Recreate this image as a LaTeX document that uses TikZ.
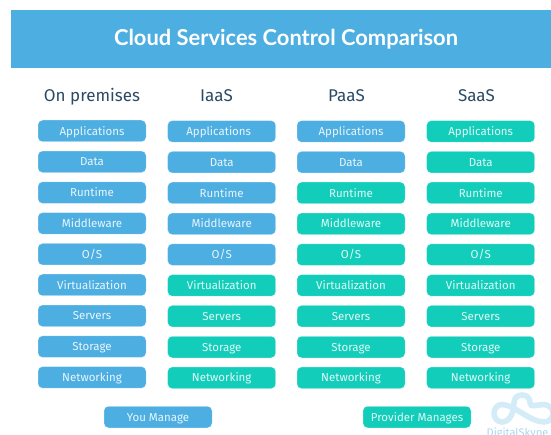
\documentclass[tikz,border=0pt]{standalone}
\usepackage{fontspec}
\setmainfont{Fira Sans}
\newfontfamily\titlefont{Lato}[BoldFont={Lato Bold}]
\definecolor{mgblue}{HTML}{4DAEE2}
\definecolor{provteal}{HTML}{13CDBB}
\definecolor{headtext}{HTML}{2B4A63}
\definecolor{logoblue}{HTML}{D4ECF7}
\definecolor{logotext}{HTML}{A9D6EE}
\tikzset{
  cellbox/.style={rounded corners=4.5pt,minimum width=108pt,minimum height=21.5pt,inner sep=0pt,text=white,font=\fontsize{11.5}{12}\selectfont,text opacity=.88,draw=white,draw opacity=.35,line width=.5pt,text height=10.6pt,text depth=2.4pt},
  you/.style={cellbox,fill=mgblue},
  prov/.style={cellbox,fill=provteal},
  colhead/.style={text=headtext,font=\fontsize{17}{18}\selectfont,inner sep=0pt,text height=12pt,text depth=3.5pt},
  logoline/.style={draw=logoblue,line width=5.6pt}
}
\begin{document}
\begin{tikzpicture}[x=1pt,y=-1pt]
\useasboundingbox (0,0) rectangle (551,435);
\clip (0,0) rectangle (551,435);
\fill[mgblue] (11,10) rectangle (551,68);
\node[text=white,inner sep=0pt,font=\titlefont\bfseries\fontsize{21.9}{24}\selectfont] (title) at (286,39.5) {Cloud Services Control Comparison};
\node[colhead] (hA) at (92,97.5) {On premises};
\node[colhead] (hB) at (216.5,97.5) {IaaS};
\node[colhead] (hC) at (346.5,97.5) {PaaS};
\node[colhead] (hD) at (476.5,97.5) {SaaS};
% rows: name / label / centre y / kern of the IaaS label / four fills
\foreach \n/\lab/\y/\k/\a/\b/\c/\d in {
 1/Applications/131/6/you/you/you/prov,
 2/Data/161.8/0/you/you/you/prov,
 3/Runtime/192.6/0/you/you/prov/prov,
 4/Middleware/223.4/0/you/you/prov/prov,
 5/O\slash S/254.2/0/you/you/prov/prov,
 6/Virtualization/285/0/you/prov/prov/prov,
 7/Servers/315.8/0/you/prov/prov/prov,
 8/Storage/346.6/0/you/prov/prov/prov,
 9/Networking/377.4/0/you/prov/prov/prov}{
  \node[\a] (A\n) at (92,\y) {\lab};
  \node[\b] (B\n) at (221.7,\y+.4) {\lab\kern\k pt};
  \node[\c] (C\n) at (351,\y+.4) {\lab};
  \node[\d] (D\n) at (480.7,\y+.4) {\lab};
}
\node[you] (legendYou) at (158,417) {You Manage};
\node[prov] (legendProv) at (417,417) {Provider Manages};
% logo
\draw[logoline] (502,404.5) .. controls (497,404.5) and (494,409) .. (494,413.5)
  .. controls (494,418.5) and (498,422) .. (502,422)
  .. controls (510,422) and (514,412) .. (514,403)
  .. controls (514,398) and (517,395) .. (522,395)
  .. controls (527,395) and (530,398) .. (530,403)
  .. controls (530,408) and (537,404.5) .. (544,404.5)
  .. controls (549,404.5) and (553,409) .. (553,413.5)
  .. controls (553,418.5) and (549,422) .. (544,422)
  .. controls (530,422) and (514,404.5) .. (502,404.5) -- cycle;
\node[text=logotext,anchor=base west,inner sep=0pt,font=\fontsize{11}{12}\selectfont] (logoText) at (486.5,436) {DigitalSkype};
\end{tikzpicture}
\end{document}
